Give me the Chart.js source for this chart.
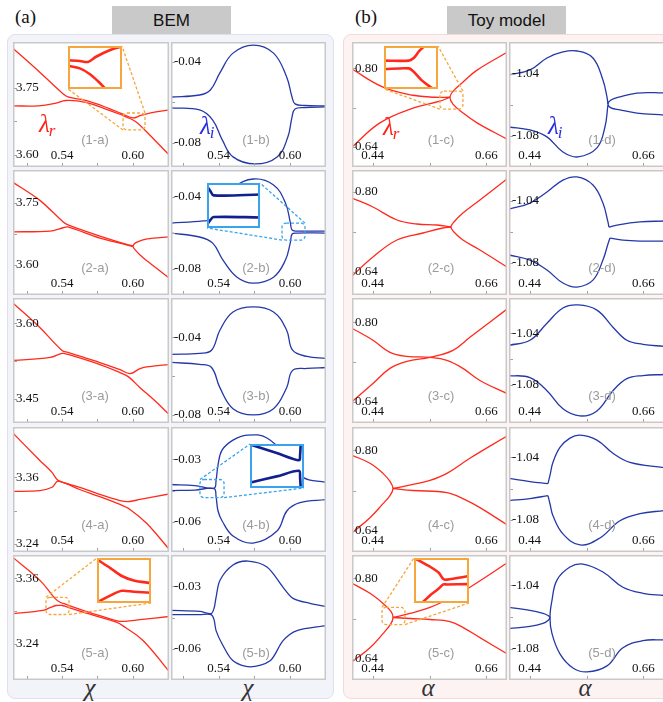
<!DOCTYPE html>
<html>
<head>
<meta charset="utf-8">
<script src="https://cdn.jsdelivr.net/npm/chart.js@4.4.1/dist/chart.umd.min.js"></script>
<style>
  body { margin: 0; width: 663px; height: 702px; overflow: hidden; position: relative; background: #fff; font-family: "Liberation Sans", Arial, sans-serif; }
  .group { position: absolute; top: 34px; height: 665px; border-radius: 8px; box-sizing: border-box; }
  #groupA { left: 7px; width: 327px; background: #f3f3fa; border: 1.5px solid #dfdfee; }
  #groupB { left: 343px; width: 330px; background: #fdf3f2; border: 1.5px solid #f3dada; }
  .head { position: absolute; top: 6px; width: 119px; height: 28px; background: #c9c9c9; color: #111; font-size: 17px; line-height: 29px; text-align: center; }
  .tag { position: absolute; top: 6px; font-family: "Liberation Serif", "Times New Roman", "DejaVu Serif", serif; font-size: 19px; color: #111; }
  .axis { position: absolute; top: 674px; width: 30px; text-align: center; font-family: "Liberation Serif", "Times New Roman", "DejaVu Serif", serif; font-style: italic; font-size: 25px; color: #333; }
  canvas { position: absolute; }
</style>
</head>
<body>
<div class="group" id="groupA"></div>
<div class="group" id="groupB"></div>
<div class="tag" style="left:15px">(a)</div>
<div class="tag" style="left:355px">(b)</div>
<div class="head" style="left:112px">BEM</div>
<div class="head" style="left:447px">Toy model</div>
<div class="axis" style="left:75px">χ</div>
<div class="axis" style="left:233px">χ</div>
<div class="axis" style="left:413px">α</div>
<div class="axis" style="left:570px">α</div>

<script>
const SERIF = '"Liberation Serif", "Times New Roman", "DejaVu Serif", serif';

// ---------- axes ----------
const BEM_A_X = [0.4985, 0.6305];
const BEM_B_X = [0.500, 0.630];
const TOY_X = [0.40, 0.70];
const BEM_X_LABELS = [0.54, 0.60];
const BEM_X_MARKS = [0.51, 0.54, 0.57, 0.60];
const TOY_X_LABELS = [0.44, 0.66];
const TOY_X_MARKS = [0.44, 0.55, 0.66];

const ticks1a = [3.60, 3.75], ticks2a = [3.60, 3.75], ticks3a = [3.45, 3.60], ticks4a = [3.24, 3.36], ticks5a = [3.24, 3.36];
const ticks1b = [-0.08, -0.04], ticks2b = [-0.08, -0.04], ticks3b = [-0.08, -0.04], ticks4b = [-0.06, -0.03], ticks5b = [-0.06, -0.03];
const ticksC = [0.64, 0.80];
const ticksD = [-1.08, -1.04];

// ---------- BEM, real parts ----------
const bem1aUpper = [[0.498,3.840],[0.520,3.788],[0.540,3.739],[0.545,3.730],[0.560,3.722],[0.580,3.704],[0.590,3.693],[0.600,3.683],[0.606,3.688],[0.615,3.694],[0.631,3.701]];
const bem1aLower = [[0.498,3.710],[0.520,3.710],[0.535,3.716],[0.543,3.722],[0.560,3.718],[0.580,3.700],[0.590,3.690],[0.598,3.681],[0.603,3.673],[0.610,3.656],[0.620,3.629],[0.631,3.599]];
const bem2aUpper = [[0.498,3.801],[0.521,3.757],[0.541,3.704],[0.545,3.697],[0.572,3.670],[0.600,3.646],[0.6008,3.650],[0.6034,3.655],[0.612,3.663],[0.631,3.668]];
const bem2aLower = [[0.498,3.680],[0.530,3.682],[0.541,3.690],[0.545,3.692],[0.572,3.665],[0.600,3.644],[0.6008,3.640],[0.606,3.624],[0.614,3.605],[0.631,3.567]];
const bem3aUpper = [[0.498,3.641],[0.521,3.592],[0.540,3.546],[0.545,3.542],[0.572,3.522],[0.589,3.508],[0.5975,3.500],[0.606,3.510],[0.614,3.514],[0.631,3.518]];
const bem3aLower = [[0.498,3.526],[0.530,3.532],[0.540,3.540],[0.545,3.538],[0.572,3.518],[0.589,3.502],[0.596,3.494],[0.606,3.472],[0.6186,3.446],[0.631,3.418]];
const bem4aUpper = [[0.498,3.441],[0.521,3.391],[0.5315,3.369],[0.5366,3.3545],[0.555,3.342],[0.572,3.329],[0.589,3.318],[0.596,3.316],[0.606,3.320],[0.631,3.330]];
const bem4aLower = [[0.498,3.3345],[0.521,3.336],[0.5315,3.342],[0.5366,3.353],[0.555,3.338],[0.572,3.325],[0.589,3.311],[0.5975,3.302],[0.612,3.276],[0.631,3.229]];
const bem5aUpper = [[0.498,3.3988],[0.5213,3.356],[0.534,3.323],[0.5383,3.316],[0.5434,3.312],[0.5636,3.297],[0.5865,3.282],[0.5933,3.281],[0.606,3.284],[0.631,3.290]];
const bem5aLower = [[0.498,3.295],[0.5239,3.301],[0.5298,3.306],[0.5349,3.310],[0.540,3.310],[0.5434,3.308],[0.5636,3.294],[0.5865,3.279],[0.5933,3.270],[0.6085,3.246],[0.631,3.188]];

// ---------- BEM, imaginary parts ----------
const bem1bUpper = [[0.500,-0.0573],[0.524,-0.0563],[0.533,-0.0538],[0.541,-0.0454],[0.552,-0.0356],[0.569,-0.0316],[0.586,-0.0356],[0.597,-0.0474],[0.6015,-0.0573],[0.604,-0.0607],[0.612,-0.0615],[0.630,-0.0617]];
const bem1bLower = [[0.500,-0.0627],[0.524,-0.0637],[0.535,-0.0687],[0.543,-0.0785],[0.552,-0.0869],[0.5705,-0.0904],[0.589,-0.0869],[0.598,-0.0771],[0.6015,-0.0672],[0.604,-0.0632],[0.612,-0.0625],[0.630,-0.0622]];
const bem2bUpper = [[0.500,-0.0545],[0.527,-0.0533],[0.534,-0.0522],[0.543,-0.0444],[0.552,-0.0350],[0.569,-0.0300],[0.586,-0.0333],[0.596,-0.0433],[0.600,-0.0539],[0.6015,-0.0583],[0.605,-0.0589],[0.630,-0.0589]];
const bem2bLower = [[0.500,-0.0600],[0.524,-0.0622],[0.535,-0.0656],[0.5436,-0.0750],[0.5554,-0.0845],[0.569,-0.0878],[0.586,-0.0845],[0.596,-0.0750],[0.600,-0.0656],[0.6015,-0.0606],[0.605,-0.0600],[0.630,-0.0600]];
const bem3bUpper = [[0.500,-0.0488],[0.524,-0.0483],[0.534,-0.0467],[0.541,-0.0364],[0.552,-0.0270],[0.569,-0.0244],[0.586,-0.0270],[0.597,-0.0364],[0.602,-0.0467],[0.614,-0.0499],[0.630,-0.0509]];
const bem3bLower = [[0.500,-0.0530],[0.524,-0.0540],[0.534,-0.0556],[0.541,-0.0660],[0.552,-0.0768],[0.569,-0.0800],[0.586,-0.0768],[0.597,-0.0660],[0.602,-0.0571],[0.614,-0.0561],[0.630,-0.0556]];
const bem4bUpper = [[0.500,-0.0421],[0.520,-0.0426],[0.5361,-0.0438],[0.5378,-0.0402],[0.5394,-0.0329],[0.5428,-0.0256],[0.552,-0.0208],[0.5638,-0.0184],[0.5805,-0.0198],[0.5998,-0.0305],[0.6107,-0.0387],[0.630,-0.0411]];
const bem4bLower = [[0.500,-0.0450],[0.520,-0.0448],[0.5361,-0.0441],[0.5378,-0.0479],[0.5394,-0.0547],[0.5428,-0.0595],[0.552,-0.0668],[0.5688,-0.0702],[0.5889,-0.0644],[0.5973,-0.0547],[0.6082,-0.0508],[0.630,-0.0494]];
const bem5bUpper = [[0.500,-0.0416],[0.5243,-0.0421],[0.5336,-0.0431],[0.5361,-0.0406],[0.5378,-0.0353],[0.5411,-0.0271],[0.552,-0.0198],[0.5646,-0.0179],[0.5805,-0.0208],[0.594,-0.0305],[0.6023,-0.0358],[0.6166,-0.0382],[0.630,-0.0397]];
const bem5bLower = [[0.500,-0.0436],[0.5243,-0.0436],[0.5336,-0.0436],[0.5361,-0.0460],[0.5378,-0.0513],[0.5428,-0.0576],[0.552,-0.0658],[0.5663,-0.0687],[0.5831,-0.0658],[0.594,-0.0561],[0.6057,-0.0513],[0.630,-0.0489]];

// ---------- toy model, real parts ----------
const toy1cLeftUp = [[0.400,0.798],[0.460,0.7615],[0.518,0.745],[0.5605,0.741],[0.5896,0.741]];
const toy1cLeftLow = [[0.400,0.640],[0.454,0.689],[0.518,0.719],[0.570,0.733],[0.5896,0.741]];
const toy1cRight = [[0.700,0.832],[0.642,0.796],[0.615,0.772],[0.5954,0.753],[0.5896,0.741],[0.5954,0.727],[0.615,0.709],[0.642,0.689],[0.700,0.656]];
const toy2cLeftUp = [[0.400,0.788],[0.4406,0.770],[0.487,0.744],[0.5257,0.736],[0.5644,0.734],[0.5915,0.730]];
const toy2cLeftLow = [[0.400,0.632],[0.4406,0.670],[0.487,0.704],[0.5373,0.718],[0.576,0.728],[0.5915,0.730]];
const toy2cRight = [[0.700,0.826],[0.6476,0.784],[0.6147,0.758],[0.5973,0.740],[0.5915,0.730],[0.5973,0.720],[0.6147,0.704],[0.6476,0.684],[0.700,0.650]];
const toy3cFirst = [[0.400,0.7878],[0.4406,0.7636],[0.4735,0.7393],[0.5064,0.7312],[0.5509,0.7291],[0.5838,0.7231],[0.6147,0.7069],[0.6476,0.6826],[0.700,0.6562]];
const toy3cSecond = [[0.400,0.640],[0.4406,0.6765],[0.4735,0.7069],[0.5064,0.7210],[0.5509,0.7291],[0.5954,0.7433],[0.6282,0.7696],[0.700,0.8263]];
const toy4cLeft = [[0.400,0.790],[0.4348,0.774],[0.460,0.754],[0.4735,0.738],[0.4793,0.724],[0.4735,0.710],[0.460,0.694],[0.4348,0.666],[0.400,0.636]];
const toy4cRightUp = [[0.4793,0.724],[0.518,0.732],[0.5509,0.740],[0.5838,0.754],[0.6282,0.784],[0.700,0.828]];
const toy4cRightLow = [[0.4793,0.724],[0.518,0.720],[0.5838,0.716],[0.6186,0.702],[0.6476,0.686],[0.700,0.652]];
const toy5cLeft = [[0.400,0.790],[0.4348,0.770],[0.460,0.750],[0.4754,0.734],[0.4793,0.722],[0.4754,0.710],[0.460,0.690],[0.4348,0.662],[0.400,0.634]];
const toy5cRightUp = [[0.4793,0.722],[0.5122,0.730],[0.5509,0.742],[0.5896,0.760],[0.6282,0.782],[0.700,0.830]];
const toy5cRightLow = [[0.4793,0.722],[0.5122,0.720],[0.5509,0.718],[0.5896,0.714],[0.6186,0.700],[0.6476,0.682],[0.700,0.650]];

// ---------- toy model, imaginary parts ----------
const toy1dLeftUp = [[0.400,-1.0406],[0.4406,-1.0374],[0.4735,-1.0297],[0.5044,-1.0258],[0.5315,-1.0252],[0.5625,-1.0297],[0.5818,-1.0439],[0.5896,-1.0548],[0.5915,-1.0594]];
const toy1dLeftLow = [[0.400,-1.0742],[0.4406,-1.0761],[0.4735,-1.0806],[0.5044,-1.0903],[0.5335,-1.0935],[0.5702,-1.0877],[0.5857,-1.0742],[0.5915,-1.0600]];
const toy1dRight = [[0.700,-1.0522],[0.6476,-1.0523],[0.6147,-1.0548],[0.5973,-1.0568],[0.5915,-1.0594],[0.5973,-1.0619],[0.6147,-1.0632],[0.6476,-1.0652],[0.700,-1.0665]];
const toy2dLoopUp = [[0.400,-1.0452],[0.4406,-1.0413],[0.4735,-1.0342],[0.5044,-1.0265],[0.5315,-1.0245],[0.5625,-1.0297],[0.5818,-1.0413],[0.5915,-1.0535],[0.5934,-1.0568]];
const toy2dTailUp = [[0.5934,-1.0568],[0.6089,-1.0555],[0.6534,-1.0535],[0.700,-1.0529]];
const toy2dLoopLow = [[0.400,-1.0748],[0.4406,-1.0781],[0.4735,-1.0845],[0.5044,-1.0929],[0.5315,-1.0955],[0.5625,-1.0910],[0.5818,-1.0781],[0.5915,-1.0677],[0.5954,-1.0639]];
const toy2dTailLow = [[0.5954,-1.0639],[0.6205,-1.0652],[0.6534,-1.0658],[0.700,-1.0658]];
const toy3dUpper = [[0.400,-1.0494],[0.4406,-1.0455],[0.4735,-1.0322],[0.5044,-1.0204],[0.5335,-1.0180],[0.5702,-1.0220],[0.6012,-1.0353],[0.6282,-1.0455],[0.6592,-1.0486],[0.700,-1.0502]];
const toy3dLower = [[0.400,-1.0729],[0.4406,-1.0745],[0.4735,-1.0847],[0.5044,-1.0988],[0.5373,-1.1043],[0.5702,-1.1004],[0.6012,-1.0847],[0.6282,-1.0753],[0.6592,-1.0729],[0.700,-1.0721]];
const toy4dFlatUp = [[0.400,-1.0535],[0.4406,-1.0555],[0.4754,-1.0568]];
const toy4dLoopUp = [[0.4754,-1.0568],[0.4793,-1.0516],[0.4851,-1.0432],[0.4986,-1.0336],[0.518,-1.0277],[0.5373,-1.0258],[0.5702,-1.0290],[0.6012,-1.0374],[0.634,-1.0432],[0.700,-1.0466]];
const toy4dFlatLow = [[0.400,-1.0677],[0.4406,-1.0664],[0.4754,-1.0645]];
const toy4dLoopLow = [[0.4754,-1.0645],[0.4793,-1.0697],[0.4851,-1.0774],[0.5044,-1.0890],[0.5373,-1.0961],[0.576,-1.0916],[0.6147,-1.0806],[0.6534,-1.0761],[0.700,-1.0741]];
const toy5dLeft = [[0.400,-1.0540],[0.4406,-1.0559],[0.4658,-1.0578],[0.4754,-1.0591],[0.4793,-1.0603],[0.4754,-1.0622],[0.4658,-1.0641],[0.4406,-1.0660],[0.400,-1.0673]];
const toy5dLoop = [[0.700,-1.0465],[0.6592,-1.0451],[0.6205,-1.0413],[0.5818,-1.0317],[0.5431,-1.0267],[0.518,-1.0286],[0.4928,-1.0368],[0.4832,-1.0495],[0.4793,-1.0603],[0.4832,-1.0705],[0.4986,-1.0832],[0.5238,-1.0921],[0.5509,-1.0946],[0.5896,-1.0908],[0.6205,-1.0794],[0.6592,-1.0749],[0.700,-1.0744]];

// ---------- magnified views near the branch points ----------
const zoom1aUpper = [[0.597,3.6834],[0.5992,3.6830],[0.6007,3.6826],[0.6022,3.6850],[0.6047,3.6880],[0.607,3.6898]];
const zoom1aLower = [[0.597,3.6808],[0.5992,3.6796],[0.601,3.6770],[0.60255,3.6736],[0.6038,3.6704]];
const zoom2bUpper = [[0.597,-0.0560],[0.5976,-0.0567],[0.59825,-0.05742],[0.607,-0.05729]];
const zoom2bLower = [[0.597,-0.0620],[0.5976,-0.06128],[0.59825,-0.0608],[0.607,-0.06086]];
const zoom4bUpper = [[0.5298,-0.04093],[0.5343,-0.04210],[0.5383,-0.04317],[0.5385,-0.04236],[0.5386,-0.04085]];
const zoom4bLower = [[0.5298,-0.04637],[0.5343,-0.04551],[0.5383,-0.04470],[0.5385,-0.04574],[0.5386,-0.04715]];
const zoom5aUpper = [[0.5302,3.3210],[0.5338,3.3165],[0.5369,3.3124],[0.5402,3.3100],[0.545,3.3086]];
const zoom5aLower = [[0.5302,3.2985],[0.5338,3.3021],[0.5369,3.3045],[0.5402,3.3040],[0.545,3.3035]];
const zoom1cUpper = [[0.580,0.7481],[0.5984,0.7481],[0.602,0.7502],[0.606,0.7558],[0.610,0.7600]];
const zoom1cLower = [[0.580,0.7411],[0.5984,0.7418],[0.602,0.7390],[0.608,0.7320],[0.616,0.7253]];
const zoom5cUpper = [[0.4653,0.7350],[0.474,0.7300],[0.4785,0.7268],[0.481,0.7233],[0.483,0.7230],[0.495,0.7250]];
const zoom5cLower = [[0.4698,0.7105],[0.474,0.7145],[0.4785,0.7180],[0.481,0.7203],[0.483,0.7203],[0.495,0.7205]];

// ---------- layout / style ----------
const RED = '#ff2a1c', BLUE = '#2438a8', DEEP_BLUE = '#10208e';
const ORANGE = '#f7a63c', SKY = '#3aa3ee';
const COLS = [13, 171, 352, 509];
const COL_W = [156, 155, 155, 155];
const ROWS = [42, 170, 298, 427, 555];
const ROW_H = 125;

const panels = [
  { id: '1-a', col: 0, row: 0, x: BEM_A_X, y: [3.573, 3.853], yt: ticks1a, lines: [bem1aUpper, bem1aLower], color: RED, sym: 'r',
    zoom: { box: [0.5916, 0.6102, 3.656, 3.694], rect: [55, 4, 54, 43], color: ORANGE, links: [['tr', 'tr'], ['bl', 'bl']],
            x: [0.597, 0.607], y: [3.670, 3.690], lines: [zoom1aUpper, zoom1aLower], lineColor: RED } },
  { id: '1-b', col: 1, row: 0, x: BEM_B_X, y: [-0.0919, -0.0301], yt: ticks1b, lines: [bem1bUpper, bem1bLower], color: BLUE, sym: 'i' },
  { id: '2-a', col: 0, row: 1, x: BEM_A_X, y: [3.527, 3.830], yt: ticks2a, lines: [bem2aUpper, bem2aLower], color: RED, tension: 0.3 },
  { id: '2-b', col: 1, row: 1, x: BEM_B_X, y: [-0.0944, -0.025], yt: ticks2b, lines: [bem2bUpper, bem2bLower], color: BLUE,
    zoom: { box: [0.5931, 0.6124, -0.0639, -0.0545], rect: [36, 13, 53, 45], color: SKY, links: [['tr', 'tr'], ['bl', 'bl']],
            x: [0.597, 0.607], y: [-0.0625, -0.0555], lines: [zoom2bUpper, zoom2bLower], lineColor: DEEP_BLUE } },
  { id: '3-a', col: 0, row: 2, x: BEM_A_X, y: [3.402, 3.650], yt: ticks3a, lines: [bem3aUpper, bem3aLower], color: RED },
  { id: '3-b', col: 1, row: 2, x: BEM_B_X, y: [-0.0842, -0.0198], yt: ticks3b, lines: [bem3bUpper, bem3bLower], color: BLUE },
  { id: '4-a', col: 0, row: 3, x: BEM_A_X, y: [3.225, 3.451], yt: ticks4a, lines: [bem4aUpper, bem4aLower], color: RED, tension: 0.3 },
  { id: '4-b', col: 1, row: 3, x: BEM_B_X, y: [-0.0745, -0.0145], yt: ticks4b, lines: [bem4bUpper, bem4bLower], color: BLUE,
    zoom: { box: [0.5243, 0.5445, -0.0484, -0.0397], rect: [79, 17, 54, 44], color: SKY, links: [['tl', 'tl'], ['br', 'br']],
            x: [0.5295, 0.5392], y: [-0.0472, -0.0408], lines: [zoom4bUpper, zoom4bLower], lineColor: DEEP_BLUE } },
  { id: '5-a', col: 0, row: 4, x: BEM_A_X, y: [3.1735, 3.4025], yt: ticks5a, lines: [bem5aUpper, bem5aLower], color: RED,
    zoom: { box: [0.5264, 0.5459, 3.2935, 3.325], rect: [84, 3, 54, 45], color: ORANGE, links: [['tl', 'tl'], ['br', 'br']],
            x: [0.530, 0.545], y: [3.298, 3.322], lines: [zoom5aUpper, zoom5aLower], lineColor: RED } },
  { id: '5-b', col: 1, row: 4, x: BEM_B_X, y: [-0.075, -0.015], yt: ticks5b, lines: [bem5bUpper, bem5bLower], color: BLUE, tension: 0.3 },

  { id: '1-c', col: 2, row: 0, x: TOY_X, y: [0.5995, 0.853], yt: ticksC, lines: [toy1cLeftUp, toy1cLeftLow, toy1cRight], color: RED, sym: 'r',
    zoom: { box: [0.5702, 0.6147, 0.717, 0.7534], rect: [32, 4, 54, 43], color: ORANGE, links: [['tr', 'tr'], ['bl', 'bl']],
            x: [0.580, 0.620], y: [0.725, 0.760], lines: [zoom1cUpper, zoom1cLower], lineColor: RED } },
  { id: '1-d', col: 3, row: 0, x: TOY_X, y: [-1.100, -1.0194], yt: ticksD, lines: [toy1dLeftUp, toy1dLeftLow, toy1dRight], color: BLUE, sym: 'i' },
  { id: '2-c', col: 2, row: 1, x: TOY_X, y: [0.594, 0.844], yt: ticksC, lines: [toy2cLeftUp, toy2cLeftLow, toy2cRight], color: RED },
  { id: '2-d', col: 3, row: 1, x: TOY_X, y: [-1.1006, -1.020], yt: ticksD, lines: [toy2dLoopUp, toy2dTailUp, toy2dLoopLow, toy2dTailLow], color: BLUE },
  { id: '3-c', col: 2, row: 2, x: TOY_X, y: [0.597, 0.8486], yt: ticksC, lines: [toy3cFirst, toy3cSecond], color: RED },
  { id: '3-d', col: 3, row: 2, x: TOY_X, y: [-1.1098, -1.0126], yt: ticksD, lines: [toy3dUpper, toy3dLower], color: BLUE },
  { id: '4-c', col: 2, row: 3, x: TOY_X, y: [0.598, 0.846], yt: ticksC, lines: [toy4cLeft, toy4cRightUp, toy4cRightLow], color: RED },
  { id: '4-d', col: 3, row: 3, x: TOY_X, y: [-1.1006, -1.0206], yt: ticksD, lines: [toy4dFlatUp, toy4dLoopUp, toy4dFlatLow, toy4dLoopLow], color: BLUE },
  { id: '5-c', col: 2, row: 4, x: TOY_X, y: [0.598, 0.846], yt: ticksC, lines: [toy5cLeft, toy5cRightUp, toy5cRightLow], color: RED,
    zoom: { box: [0.4581, 0.5025, 0.708, 0.742], rect: [62, 3, 55, 45], color: ORANGE, links: [['tl', 'tl'], ['br', 'br']],
            x: [0.465, 0.495], y: [0.710, 0.735], lines: [zoom5cUpper, zoom5cLower], lineColor: RED } },
  { id: '5-d', col: 3, row: 4, x: TOY_X, y: [-1.0997, -1.021], yt: ticksD, lines: [toy5dLeft, toy5dLoop], color: BLUE }
];

// horizontal offset of the "(n-x)" tag and the λ label inside each column
const TAG_X = [82, 85, 89, 93];
const SYM_POS = [[26, 90], [29, 92], [31, 93], [39, 92]];

function corner(r, which) {
  const [l, t, w, h] = r;
  return [which[1] === 'l' ? l : l + w, which[0] === 't' ? t : t + h];
}

function makeCanvas(left, top, w, h) {
  const c = document.createElement('canvas');
  c.width = w; c.height = h;
  c.style.left = left + 'px'; c.style.top = top + 'px';
  c.style.width = w + 'px'; c.style.height = h + 'px';
  document.body.appendChild(c);
  return c;
}

function datasets(lines, color, width, tension) {
  return lines.map(pts => ({
    data: pts.map(([x, y]) => ({ x, y })),
    borderColor: color,
    borderWidth: width,
    showLine: true,
    pointRadius: 0,
    tension: tension,
    fill: false
  }));
}

function baseOptions(xr, yr) {
  return {
    responsive: false,
    animation: false,
    events: [],
    layout: { padding: 0 },
    scales: {
      x: { type: 'linear', display: false, min: xr[0], max: xr[1] },
      y: { type: 'linear', display: false, min: yr[0], max: yr[1] }
    },
    plugins: { legend: { display: false }, tooltip: { enabled: false } }
  };
}

// frame, inward ticks, labels, tags and the dashed zoom box of one panel
function panelDeco(p) {
  const isBem = p.col < 2;
  const xLabels = isBem ? BEM_X_LABELS : TOY_X_LABELS;
  const xMarks = isBem ? BEM_X_MARKS : TOY_X_MARKS;
  return {
    id: 'panelDeco',
    beforeDraw(chart) {
      const { ctx, width, height } = chart;
      ctx.save();
      ctx.fillStyle = '#fff';
      ctx.fillRect(0, 0, width, height);
      ctx.restore();
    },
    afterDraw(chart) {
      const { ctx, chartArea: a, scales: { x, y } } = chart;
      ctx.save();

      // tick marks
      ctx.strokeStyle = '#a0a0a0';
      ctx.lineWidth = 1;
      ctx.beginPath();
      xMarks.forEach(v => {
        const px = Math.round(x.getPixelForValue(v)) + 0.5;
        ctx.moveTo(px, a.bottom); ctx.lineTo(px, a.bottom - 4);
      });
      const yMarks = [p.yt[0], (p.yt[0] + p.yt[1]) / 2, p.yt[1]];
      yMarks.forEach(v => {
        const py = Math.round(y.getPixelForValue(v)) + 0.5;
        ctx.moveTo(a.left, py); ctx.lineTo(a.left + 4, py);
      });
      ctx.stroke();

      // tick labels
      ctx.fillStyle = '#111';
      ctx.font = '13px ' + SERIF;
      ctx.textBaseline = 'middle';
      ctx.textAlign = 'center';
      xLabels.forEach(v => ctx.fillText(v.toFixed(2), x.getPixelForValue(v), a.bottom - 11));
      ctx.textAlign = 'left';
      p.yt.forEach(v => ctx.fillText(v.toFixed(2), a.left + 3, y.getPixelForValue(v)));

      // panel tag
      ctx.fillStyle = '#9b9b9b';
      ctx.font = '13px "Liberation Sans", Arial, sans-serif';
      ctx.textAlign = 'center';
      ctx.fillText('(' + p.id + ')', a.left + TAG_X[p.col], a.bottom - 27);

      // λ_r / λ_i
      if (p.sym) {
        const [sx, sy] = SYM_POS[p.col];
        ctx.fillStyle = p.sym === 'r' ? '#ff2418' : '#2a2ee0';
        ctx.textAlign = 'left';
        ctx.textBaseline = 'alphabetic';
        ctx.font = 'italic 25px ' + SERIF;
        ctx.fillText('λ', sx, sy);
        const w = ctx.measureText('λ').width;
        ctx.font = 'italic 17px ' + SERIF;
        ctx.fillText(p.sym, sx + w - 1, sy + 4);
      }

      // dashed zoom window and its leaders
      if (p.zoom) {
        const z = p.zoom;
        const bl = x.getPixelForValue(z.box[0]), br = x.getPixelForValue(z.box[1]);
        const bt = y.getPixelForValue(z.box[3]), bb = y.getPixelForValue(z.box[2]);
        const boxRect = [bl, bt, br - bl, bb - bt];
        ctx.strokeStyle = z.color;
        ctx.lineWidth = 1.3;
        ctx.setLineDash([3, 2]);
        ctx.beginPath();
        ctx.roundRect(bl, bt, br - bl, bb - bt, 4);
        z.links.forEach(([from, to]) => {
          const [x0, y0] = corner(boxRect, from);
          const [x1, y1] = corner(z.rect, to);
          ctx.moveTo(x0, y0); ctx.lineTo(x1, y1);
        });
        ctx.stroke();
        ctx.setLineDash([]);
      }

      // frame (the last column runs off the right edge, so no right side there)
      ctx.strokeStyle = '#c9c9c9';
      ctx.lineWidth = 1.5;
      const l = a.left + 0.75, t = a.top + 0.75, r = a.right - 0.75, b = a.bottom - 0.75;
      ctx.beginPath();
      if (p.col === 3) {
        ctx.moveTo(r + 2, t); ctx.lineTo(l, t); ctx.lineTo(l, b); ctx.lineTo(r + 2, b);
      } else {
        ctx.rect(l, t, r - l, b - t);
      }
      ctx.stroke();
      ctx.restore();
    }
  };
}

function insetDeco(z) {
  return {
    id: 'insetDeco',
    beforeDraw(chart) {
      const { ctx, width, height } = chart;
      ctx.save();
      ctx.fillStyle = '#fff';
      ctx.fillRect(0, 0, width, height);
      ctx.restore();
    },
    afterDraw(chart) {
      const { ctx, width, height } = chart;
      ctx.save();
      ctx.strokeStyle = z.color;
      ctx.lineWidth = 2;
      ctx.strokeRect(1, 1, width - 2, height - 2);
      ctx.restore();
    }
  };
}

const insets = [];
panels.forEach(p => {
  const left = COLS[p.col], top = ROWS[p.row], w = COL_W[p.col];
  const canvas = makeCanvas(left, top, w, ROW_H);
  new Chart(canvas, {
    type: 'scatter',
    data: { datasets: datasets(p.lines, p.color, 1.3, p.tension ?? 0.4) },
    options: baseOptions(p.x, p.y),
    plugins: [panelDeco(p)]
  });
  if (p.zoom) insets.push({ z: p.zoom, left, top });
});

// magnified views go on top of their panels
insets.forEach(({ z, left, top }) => {
  const [l, t, w, h] = z.rect;
  const canvas = makeCanvas(left + l, top + t, w, h);
  new Chart(canvas, {
    type: 'scatter',
    data: { datasets: datasets(z.lines, z.lineColor, 2.6, 0.3) },
    options: baseOptions(z.x, z.y),
    plugins: [insetDeco(z)]
  });
});
</script>
</body>
</html>
